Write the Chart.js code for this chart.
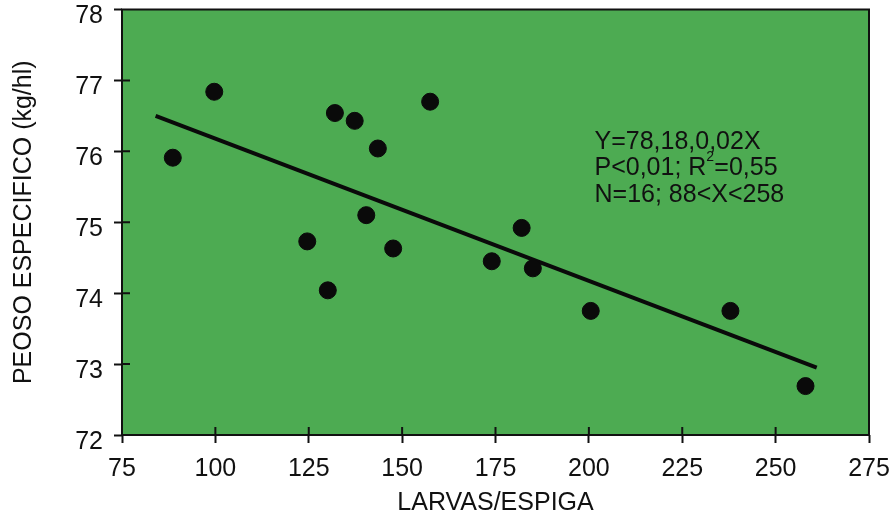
<!DOCTYPE html>
<html>
<head>
<meta charset="utf-8">
<script src="https://cdn.jsdelivr.net/npm/chart.js@4"></script>
<style>
  html, body { margin: 0; padding: 0; background: #fff; }
  #wrap { width: 893px; height: 519px; }
</style>
</head>
<body>
<div id="wrap"><canvas id="chart" width="893" height="519"></canvas></div>
<script>
// values
const larvas = [88.6, 99.7, 124.6, 130.1, 132, 137.3, 140.4, 143.5, 147.6, 157.5, 174, 182, 185, 200.5, 237.9, 258];
const peso = [75.91, 76.84, 74.73, 74.04, 76.54, 76.43, 75.1, 76.04, 74.63, 76.7, 74.45, 74.92, 74.35, 73.75, 73.75, 72.69];
const lineX = [84, 261];
const lineY = [76.5, 72.95];
const xTicks = [75, 100, 125, 150, 175, 200, 225, 250, 275];
const yTicks = [72, 73, 74, 75, 76, 77, 78];
const notes = ["Y=78,18,0,02X", "P<0,01; R", "N=16; 88<X<258"];

const FONT = "'Liberation Sans', Arial, sans-serif";
const GREEN = "#4dab52";

const framePlugin = {
    id: "frame",
    beforeDraw(chart) {
        const { ctx, chartArea: a } = chart;
        ctx.save();
        ctx.fillStyle = GREEN;
        ctx.fillRect(a.left, a.top, a.right - a.left, a.bottom - a.top);
        ctx.restore();
    },
    afterDraw(chart) {
        const { ctx, chartArea: a, scales } = chart;
        ctx.save();
        ctx.strokeStyle = "#111";
        ctx.lineWidth = 2;
        ctx.strokeRect(a.left, a.top, a.right - a.left, a.bottom - a.top);

        // tick marks cross the frame, draw the inner half
        ctx.beginPath();
        xTicks.slice(1, -1).forEach(v => {
            const px = scales.x.getPixelForValue(v);
            ctx.moveTo(px, a.bottom);
            ctx.lineTo(px, a.bottom - 8);
        });
        yTicks.slice(1, -1).forEach(v => {
            const py = scales.y.getPixelForValue(v);
            ctx.moveTo(a.left, py);
            ctx.lineTo(a.left + 8, py);
        });
        ctx.stroke();

        // regression note
        ctx.fillStyle = "#111";
        ctx.font = "25px " + FONT;
        ctx.textBaseline = "alphabetic";
        const x0 = scales.x.getPixelForValue(201.5);
        const y0 = scales.y.getPixelForValue(76.03);
        ctx.fillText(notes[0], x0, y0);
        ctx.fillText(notes[1], x0, y0 + 26);
        let w = ctx.measureText(notes[1]).width;
        ctx.font = "14px " + FONT;
        ctx.fillText("2", x0 + w, y0 + 26 - 14);
        w += 8;
        ctx.font = "25px " + FONT;
        ctx.fillText("=0,55", x0 + w, y0 + 26);
        ctx.fillText(notes[2], x0, y0 + 53);
        ctx.restore();
    }
};

new Chart(document.getElementById("chart"), {
    type: "scatter",
    data: {
        datasets: [
            {
                data: larvas.map((x, i) => ({ x: x, y: peso[i] })),
                backgroundColor: "#0a0a0a",
                borderColor: "#0a0a0a",
                pointRadius: 8.5,
                pointHoverRadius: 8.5
            },
            {
                type: "line",
                data: lineX.map((x, i) => ({ x: x, y: lineY[i] })),
                borderColor: "#0a0a0a",
                borderWidth: 4,
                pointRadius: 0,
                fill: false
            }
        ]
    },
    options: {
        responsive: false,
        animation: false,
        layout: { padding: { top: 8, right: 24, left: 0, bottom: 0 } },
        plugins: {
            legend: { display: false },
            tooltip: { enabled: false }
        },
        scales: {
            x: {
                type: "linear",
                min: 75,
                max: 275,
                afterBuildTicks: s => { s.ticks = xTicks.map(v => ({ value: v })); },
                afterFit: s => {
                    s.height = 84;
                    s.paddingLeft = 0;
                    s.paddingRight = 0;
                },
                grid: {
                    display: true,
                    drawOnChartArea: false,
                    drawTicks: true,
                    tickLength: 8,
                    tickWidth: 2,
                    color: "#111"
                },
                border: { display: false },
                ticks: {
                    autoSkip: false,
                    maxRotation: 0,
                    padding: 11,
                    color: "#111",
                    font: { family: FONT, size: 25 }
                },
                title: {
                    display: true,
                    text: "LARVAS/ESPIGA",
                    color: "#111",
                    padding: { top: 0, bottom: 1 },
                    font: { family: FONT, size: 25 }
                }
            },
            y: {
                type: "linear",
                min: 72,
                max: 78,
                afterBuildTicks: s => { s.ticks = yTicks.map(v => ({ value: v })); },
                afterFit: s => {
                    s.width = 122;
                    s.paddingTop = 0;
                    s.paddingBottom = 0;
                },
                grid: {
                    display: true,
                    drawOnChartArea: false,
                    drawTicks: true,
                    tickLength: 8,
                    tickWidth: 2,
                    color: "#111"
                },
                border: { display: false },
                ticks: {
                    padding: 11,
                    labelOffset: 7,
                    color: "#111",
                    font: { family: FONT, size: 25 }
                },
                title: {
                    display: true,
                    text: "PEOSO ESPECIFICO (kg/hl)",
                    color: "#111",
                    padding: { top: 9, bottom: 0 },
                    font: { family: FONT, size: 25 }
                }
            }
        }
    },
    plugins: [framePlugin]
});
</script>
</body>
</html>
